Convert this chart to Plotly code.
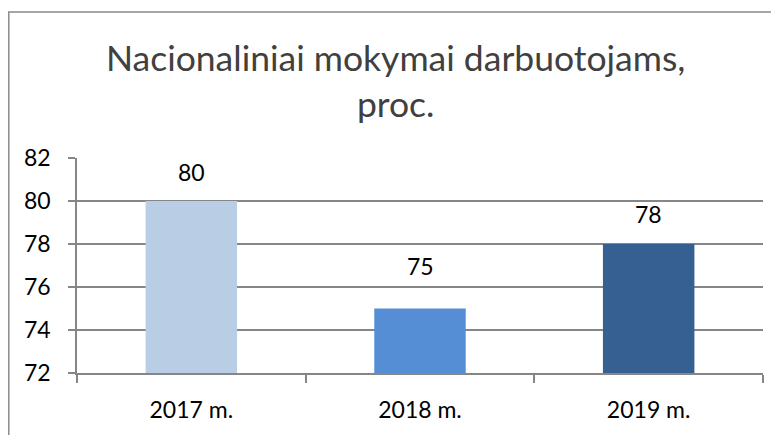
import plotly.graph_objects as go

categories = ["2017 m.", "2018 m.", "2019 m."]
values = [80, 75, 78]
bar_colors = ["#B9CDE5", "#558ED5", "#376092"]
y_ticks = [72, 74, 76, 78, 80, 82]
title_text = "Nacionaliniai mokymai darbuotojams,<br>proc."

# label offsets above bar ends (px), matching the source's placement
label_offsets = [13, 27, 14]

# page body adds an 8px margin, so the figure is drawn 8px smaller
W, H = 771, 427
L, R, T, B = 69, 16, 150, 62
pw, ph = W - L - R, H - T - B

fig = go.Figure()
fig.add_trace(go.Bar(
    x=categories, y=values, marker=dict(color=bar_colors, line=dict(width=0)),
    width=0.4, hoverinfo="skip"
))

for c, v, off in zip(categories, values, label_offsets):
    fig.add_annotation(x=c, y=v, text=str(v), showarrow=False, yanchor="bottom",
                       yshift=off, font=dict(family="Lato", size=23, color="#000000"))

fig.add_annotation(xref="paper", yref="paper", x=(387.5 - L) / pw, y=(H - B - 72) / ph,
                   xanchor="center", yanchor="middle",
                   text=title_text, showarrow=False, align="center",
                   font=dict(family="Lato", size=35.5, color="#404040"))

# outer chart border (cropped at right/bottom)
fig.add_shape(type="rect", xref="paper", yref="paper",
              x0=(0.8 - L) / pw, x1=1.2, y0=-0.5, y1=(H - B - 4) / ph,
              line=dict(color="#8a8a8a", width=1.5), fillcolor="rgba(0,0,0,0)", layer="below")

fig.update_layout(
    width=W, height=H, margin=dict(l=L, r=R, t=T, b=B, autoexpand=False),
    paper_bgcolor="white", plot_bgcolor="white", showlegend=False,
    font=dict(family="Lato", color="#000000"),
)
fig.update_xaxes(
    type="category", showline=True, linecolor="#868686", linewidth=1.5,
    ticks="outside", tickson="boundaries", ticklen=8, tickcolor="#868686", tickwidth=1.5,
    tickfont=dict(family="Lato", size=23, color="#000000"), ticklabelstandoff=16,
    showgrid=False, range=[-0.5, 2.5]
)
fig.update_yaxes(
    range=[72, 82], tickvals=y_ticks, showline=True, linecolor="#868686", linewidth=1.5,
    ticks="outside", ticklen=7, tickcolor="#868686", tickwidth=1.5,
    showgrid=True, gridcolor="#868686", gridwidth=1.5, zeroline=False,
    tickfont=dict(family="Lato", size=23, color="#000000"), ticklabelstandoff=13
)

fig.write_html("out.html")
